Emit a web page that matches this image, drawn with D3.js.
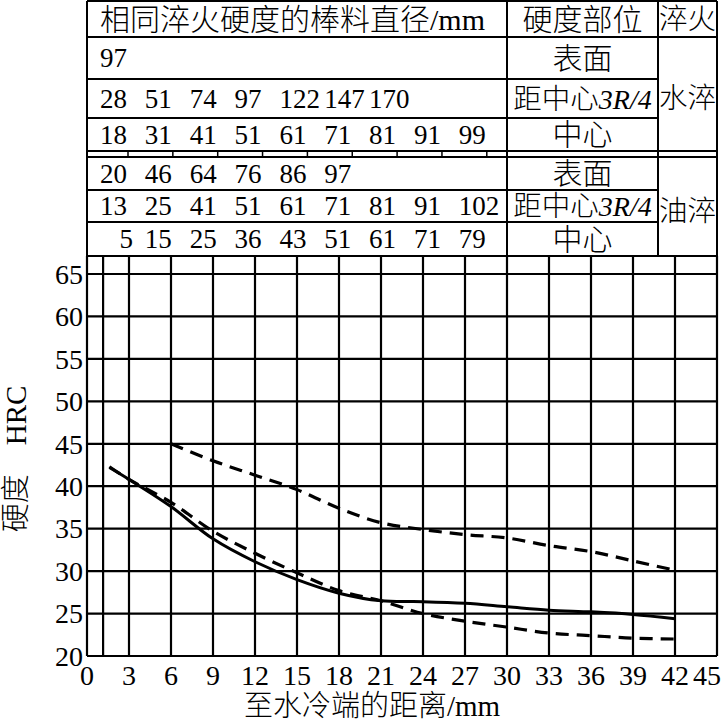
<!DOCTYPE html>
<html><head><meta charset="utf-8">
<script src="https://cdn.jsdelivr.net/npm/d3@7/dist/d3.min.js"></script>
<style>
body{margin:0;background:#fff}
text{fill:#000}
.num{font-family:"Liberation Serif","Times New Roman",serif}
.cjk{font-family:"Liberation Serif","Noto Sans CJK SC",serif;font-weight:300}
</style>
</head><body>
<svg id="c" width="722" height="721"></svg>
<script>
// ---------- data ----------
const xTicks = [0,3,6,9,12,15,18,21,24,27,30,33,36,39,42,45];
const yTicks = [20,25,30,35,40,45,50,55,60,65];
const xGridExtra = [1.15];

// solid curve
const solidX = [1.6,3,6,9,12,15,18,21,24,27,30,33,36,39,42];
const solidY = [42.2,40.8,37.6,33.8,31.1,29.0,27.4,26.5,26.4,26.2,25.8,25.4,25.2,24.9,24.4];
// lower dashed curve
const dashLowX = [1.6,3,6,9,12,15,18,21,24,27,30,33,36,39,42];
const dashLowY = [42.3,40.8,38.1,34.7,32.1,29.8,27.7,26.5,25.0,24.1,23.4,22.7,22.4,22.1,22.0];
// upper dashed curve
const dashUpX = [6,9,12,15,18,21,24,27,30,33,36,39,42];
const dashUpY = [45.0,43.0,41.3,39.6,37.4,35.7,34.9,34.3,33.9,33.0,32.3,31.2,30.1];

// table
const headerLabels = ["相同淬火硬度的棒料直径/mm","硬度部位","淬火"];
const waterRows = [["97"],["28","51","74","97","122","147","170"],["18","31","41","51","61","71","81","91","99"]];
const oilRows = [["20","46","64","76","86","97"],["13","25","41","51","61","71","81","91","102"],["5","15","25","36","43","51","61","71","79"]];
const partLabels = ["表面","距中心","中心"];
const quenchLabels = ["水淬","油淬"];
const xTitle = "至水冷端的距离/mm";
const yTitle = "硬度　HRC";

// ---------- layout ----------
const W = 722, H = 721;
const svg = d3.select("#c");
const x = d3.scaleLinear().domain([0,45]).range([87,717]);
const y = d3.scaleLinear().domain([20,65]).range([656,274]);
const plotTop = 256;
const col1 = 507, col2 = 658;
const rowY = [1,37,79,118,151,157,190,222,plotTop]; // table horizontal lines
const numStart = 100, numStep = 44.85, digitW = 13.5;

const g = svg.append("g");
const line = (x1,y1,x2,y2,w) => g.append("line").attr("x1",x1).attr("y1",y1).attr("x2",x2).attr("y2",y2)
  .attr("stroke","#000").attr("stroke-width",w||2);

// ---------- chart grid ----------
g.selectAll(".hg").data(yTicks).enter().append("line")
  .attr("x1",x(0)).attr("x2",x(45)).attr("y1",d=>y(d)).attr("y2",d=>y(d))
  .attr("stroke","#000").attr("stroke-width",2.2);
g.selectAll(".vg").data(xTicks.concat(xGridExtra)).enter().append("line")
  .attr("x1",d=>x(d)).attr("x2",d=>x(d)).attr("y1",plotTop).attr("y2",y(20))
  .attr("stroke","#000").attr("stroke-width",2.2);

// ---------- table ----------
line(x(0),rowY[0],x(0),plotTop,2);
line(x(45),rowY[0],x(45),plotTop,2);
line(col1,rowY[0],col1,plotTop,2);
line(col2,rowY[0],col2,plotTop,2);
line(x(0),rowY[0],x(45),rowY[0],2);
line(x(0),rowY[1],x(45),rowY[1],2);
[2,3,6,7].forEach(i=>line(x(0),rowY[i],col2,rowY[i],2));
line(x(0),rowY[4],x(45),rowY[4],2);
line(x(0),rowY[5],x(45),rowY[5],2);
line(x(0),plotTop,x(45),plotTop,2.2);
// separator ticks
d3.range(9).forEach(i=>{
  const tx = numStart + 2*digitW + 1 + i*numStep;
  line(tx,rowY[4],tx,rowY[5],1.5);
});

// header
g.append("text").attr("class","cjk").attr("x",numStart).attr("y",(rowY[0]+rowY[1])/2).attr("dy","0.36em")
  .attr("font-size",30).text(headerLabels[0]);
g.append("text").attr("class","cjk").attr("x",(col1+col2)/2).attr("y",(rowY[0]+rowY[1])/2).attr("dy","0.36em")
  .attr("text-anchor","middle").attr("font-size",30).text(headerLabels[1]);
g.append("text").attr("class","cjk").attr("x",(col2+x(45))/2).attr("y",(rowY[0]+rowY[1])/2).attr("dy","0.36em")
  .attr("text-anchor","middle").attr("font-size",28.5).text(headerLabels[2]);

function drawBlock(rows, bands, quench){
  rows.forEach((r,ri)=>{
    const cy = (bands[ri]+bands[ri+1])/2;
    r.forEach((v,i)=>{
      const pad = v.length<2 ? (2-v.length)*digitW+6 : 0;
      g.append("text").attr("class","num").attr("x",numStart+i*numStep+pad).attr("y",cy).attr("dy","0.35em")
        .attr("font-size",27).text(v);
    });
    const t = g.append("text").attr("class","cjk").attr("x",(col1+col2)/2).attr("y",cy).attr("dy","0.36em")
      .attr("text-anchor","middle").attr("font-size",ri===1?28.5:30);
    t.append("tspan").text(partLabels[ri]);
    if(ri===1){
      t.append("tspan").attr("class","num").attr("font-style","italic").attr("font-size",28).text("3R/4");
    }
  });
  g.append("text").attr("class","cjk").attr("x",(col2+x(45))/2).attr("y",(bands[0]+bands[3])/2+4).attr("dy","0.36em")
    .attr("text-anchor","middle").attr("font-size",28.5).text(quench);
}
drawBlock(waterRows,[rowY[1],rowY[2],rowY[3],rowY[4]],quenchLabels[0]);
drawBlock(oilRows,[rowY[5],rowY[6],rowY[7],rowY[8]],quenchLabels[1]);

// ---------- axes labels ----------
g.selectAll(".yl").data(yTicks).enter().append("text").attr("class","num")
  .attr("x",83).attr("y",d=>y(d)).attr("dy","0.35em").attr("text-anchor","end")
  .attr("font-size",28).text(d=>d);
const lastTick = xTicks[xTicks.length-1];
g.selectAll(".xl").data(xTicks).enter().append("text").attr("class","num")
  .attr("x",d=>d===lastTick ? W-1 : x(d)).attr("y",y(20)+19).attr("dy","0.35em")
  .attr("text-anchor",d=>d===lastTick ? "end" : "middle")
  .attr("font-size",28).text(d=>d);
g.append("text").attr("class","cjk").attr("x",372).attr("y",706).attr("dy","0.36em")
  .attr("text-anchor","middle").attr("font-size",29).text(xTitle);
g.append("text").attr("class","cjk").attr("transform","translate(16,459) rotate(-90)")
  .attr("dy","0.36em").attr("text-anchor","middle").attr("font-size",29).text(yTitle);

// ---------- curves ----------
const gen = d3.line().x(d=>x(d[0])).y(d=>y(d[1])).curve(d3.curveCatmullRom.alpha(0.5));
const zip = (a,b)=>a.map((v,i)=>[v,b[i]]);
g.append("path").attr("d",gen(zip(solidX,solidY))).attr("fill","none").attr("stroke","#000").attr("stroke-width",3);
g.append("path").attr("d",gen(zip(dashLowX,dashLowY))).attr("fill","none").attr("stroke","#000")
  .attr("stroke-width",3.2).attr("stroke-dasharray","13,8");
g.append("path").attr("d",gen(zip(dashUpX,dashUpY))).attr("fill","none").attr("stroke","#000")
  .attr("stroke-width",3.2).attr("stroke-dasharray","13,8");
</script>
</body></html>
